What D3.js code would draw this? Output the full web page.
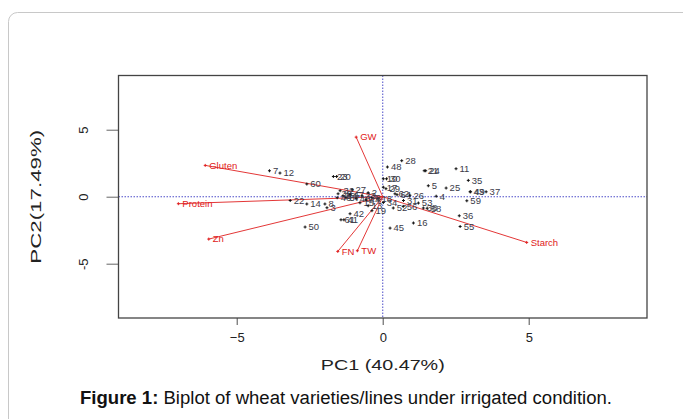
<!DOCTYPE html>
<html>
<head>
<meta charset="utf-8">
<script src="https://cdn.jsdelivr.net/npm/d3@7"></script>
<style>
  body { margin: 0; background: #fff; }
  svg { display: block; font-family: "Liberation Sans", Arial, sans-serif; }
</style>
</head>
<body>
<div id="chart"></div>
<script>
// Genotype scores (PC1, PC2)
const genoLabels = ["7", "12", "60", "23", "20", "10", "30", "28", "48", "21", "24", "11", "35", "5", "25",
    "43", "49", "37", "17", "29", "62", "64", "26", "4", "34", "31", "53", "52", "56", "38", "58", "59", "36",
    "55", "16", "45", "15", "13", "19", "42", "61", "41", "8", "3", "14", "22", "50", "32", "27", "39", "54",
    "47", "33", "2", "6", "40", "57", "18", "44", "46"];
const genoPC1 = [-3.88, -3.52, -2.60, -1.69, -1.58, 0.02, 0.13, 0.65, 0.16, 1.42, 1.47, 2.51, 2.93, 1.56, 2.17,
    2.99, 3.01, 3.54, 0.02, 0.11, 0.42, 0.49, 0.93, 1.83, 0.02, 0.71, 1.22, 0.36, 0.70, 1.39, 1.52, 2.88, 2.62,
    2.65, 1.05, 0.25, -0.78, -0.50, -0.37, -1.12, -1.43, -1.33, -1.98, -1.91, -2.60, -3.17, -2.66, -1.46, -1.05, -1.53, -1.36,
    -1.12, -0.71, -0.50, -0.37, -0.91, -1.26, -0.16, -0.57, -1.56];
const genoPC2 = [1.94, 1.77, 0.95, 1.51, 1.51, 1.34, 1.34, 2.69, 2.22, 1.94, 1.94, 2.09, 1.22, 0.82, 0.65,
    0.37, 0.37, 0.37, 0.71, 0.60, 0.22, 0.15, 0.11, 0.04, -0.43, -0.28, -0.47, -0.84, -0.72, -0.84, -0.86, -0.30, -1.42,
    -2.22, -1.96, -2.34, -0.45, -0.67, -1.04, -1.27, -1.72, -1.72, -0.54, -0.82, -0.54, -0.28, -2.26, 0.45, 0.52, 0.22, 0.07,
    0.15, 0.07, 0.30, -0.07, -0.15, -0.07, -0.15, -0.22, -0.07];

// Trait loadings (arrow tips)
const traitLabels = ["GW", "Gluten", "Protein", "Zn", "FN", "TW", "Starch"];
const traitPC1 = [-0.91, -6.08, -7.00, -5.96, -1.54, -0.87, 4.93];
const traitPC2 = [4.45, 2.34, -0.52, -3.16, -4.08, -4.03, -3.41];

// Axis ticks
const xTicks = [-5, 0, 5];
const yTicks = [-5, 0, 5];
const yTickText = ["-5", "0", "5"];

const W = 683, H = 419;
const plot = { left: 118.5, right: 647, top: 75.5, bottom: 318 };

const svg = d3.select("#chart").append("svg")
    .attr("width", W)
    .attr("height", H);

// outer frame of the figure
svg.append("rect")
    .attr("x", 8.5).attr("y", 12.5)
    .attr("width", 700).attr("height", 440)
    .attr("rx", 9)
    .attr("fill", "none")
    .attr("stroke", "#c8c8c8");

const x = d3.scaleLinear().domain([-9.05, 9.05]).range([plot.left, plot.right]);
const y = d3.scaleLinear().domain([-9.05, 9.05]).range([plot.bottom, plot.top]);

// reference lines at zero
const refColor = "#4b4bc8";
svg.append("line")
    .attr("x1", x(0)).attr("x2", x(0))
    .attr("y1", plot.top).attr("y2", plot.bottom)
    .attr("stroke", refColor).attr("stroke-width", 1)
    .attr("stroke-dasharray", "1.5,1.5");
svg.append("line")
    .attr("x1", plot.left).attr("x2", plot.right)
    .attr("y1", y(0)).attr("y2", y(0))
    .attr("stroke", refColor).attr("stroke-width", 1)
    .attr("stroke-dasharray", "1.5,1.5");

// x axis
const xAxis = svg.append("g")
    .attr("transform", `translate(0,${plot.bottom})`)
    .call(d3.axisBottom(x).tickValues(xTicks).tickSize(7).tickFormat(d3.format("d")));
xAxis.select(".domain").remove();
xAxis.selectAll("line").attr("stroke", "#777").attr("stroke-width", 1.3);
xAxis.selectAll("text")
    .attr("y", 15)
    .attr("font-size", "13px")
    .attr("font-family", "'Liberation Sans', Arial, sans-serif")
    .attr("fill", "#222");

// y axis, labels parallel to the axis
const yAxis = svg.append("g")
    .attr("transform", `translate(${plot.left},0)`)
    .call(d3.axisLeft(y).tickValues(yTicks).tickSize(12).tickFormat((d, i) => yTickText[i]));
yAxis.select(".domain").remove();
yAxis.selectAll("line").attr("stroke", "#888").attr("stroke-width", 1.3);
yAxis.selectAll("text")
    .attr("x", 0).attr("y", 0).attr("dy", 0)
    .attr("text-anchor", "middle")
    .attr("transform", "translate(-35,0) rotate(-90)")
    .attr("dominant-baseline", "central")
    .attr("font-size", "13px")
    .attr("font-family", "'Liberation Sans', Arial, sans-serif")
    .attr("fill", "#222");

// plot frame
svg.append("rect")
    .attr("x", plot.left).attr("y", plot.top)
    .attr("width", plot.right - plot.left)
    .attr("height", plot.bottom - plot.top)
    .attr("fill", "none")
    .attr("stroke", "#444")
    .attr("stroke-width", 1.3);

// trait arrows
const red = "#e02020";
const traits = traitLabels.map((t, i) => ({ label: t, pc1: traitPC1[i], pc2: traitPC2[i] }));
svg.append("g").selectAll("line")
    .data(traits)
    .enter()
    .append("line")
    .attr("x1", x(0)).attr("y1", y(0))
    .attr("x2", d => x(d.pc1)).attr("y2", d => y(d.pc2))
    .attr("stroke", red)
    .attr("stroke-width", 0.9);

svg.append("g").selectAll("path")
    .data(traits)
    .enter()
    .append("path")
    .attr("transform", d => `translate(${x(d.pc1)},${y(d.pc2)})`)
    .attr("d", "M-1.5,0H1.5M0,-1.5V1.5")
    .attr("stroke", red)
    .attr("stroke-width", 1);

svg.append("g").selectAll("text")
    .data(traits)
    .enter()
    .append("text")
    .attr("x", d => x(d.pc1) + 4)
    .attr("y", d => y(d.pc2))
    .attr("dy", "0.35em")
    .attr("font-size", "9.5px")
    .attr("fill", red)
    .text(d => d.label);

// genotype points
const genos = genoLabels.map((g, i) => ({ label: g, pc1: genoPC1[i], pc2: genoPC2[i] }));
const gPts = svg.append("g").selectAll("g")
    .data(genos)
    .enter()
    .append("g")
    .attr("transform", d => `translate(${x(d.pc1)},${y(d.pc2)})`);

gPts.append("path")
    .attr("d", "M-1.5,0H1.5M0,-1.5V1.5")
    .attr("stroke", "#111")
    .attr("stroke-width", 1);

gPts.append("text")
    .attr("x", 3.5)
    .attr("dy", "0.35em")
    .attr("font-size", "9.5px")
    .attr("fill", "#3a3a48")
    .text(d => d.label);

// axis titles
svg.append("text")
    .attr("x", x(0))
    .attr("y", 370)
    .attr("text-anchor", "middle")
    .attr("font-size", "14px")
    .attr("fill", "#222")
    .attr("textLength", 124)
    .attr("lengthAdjust", "spacingAndGlyphs")
    .text("PC1 (40.47%)");

svg.append("text")
    .attr("transform", `translate(36,${y(0)}) rotate(-90)`)
    .attr("text-anchor", "middle")
    .attr("dominant-baseline", "central")
    .attr("font-size", "14px")
    .attr("fill", "#222")
    .attr("textLength", 134)
    .attr("lengthAdjust", "spacingAndGlyphs")
    .text("PC2(17.49%)");

// caption
const cap = svg.append("text")
    .attr("x", 346)
    .attr("y", 404)
    .attr("text-anchor", "middle")
    .attr("font-size", "18px")
    .attr("fill", "#111")
    .attr("textLength", 532)
    .attr("lengthAdjust", "spacingAndGlyphs");
cap.append("tspan").attr("font-weight", "bold").text("Figure 1:");
cap.append("tspan").text(" Biplot of wheat varieties/lines under irrigated condition.");
</script>
</body>
</html>
